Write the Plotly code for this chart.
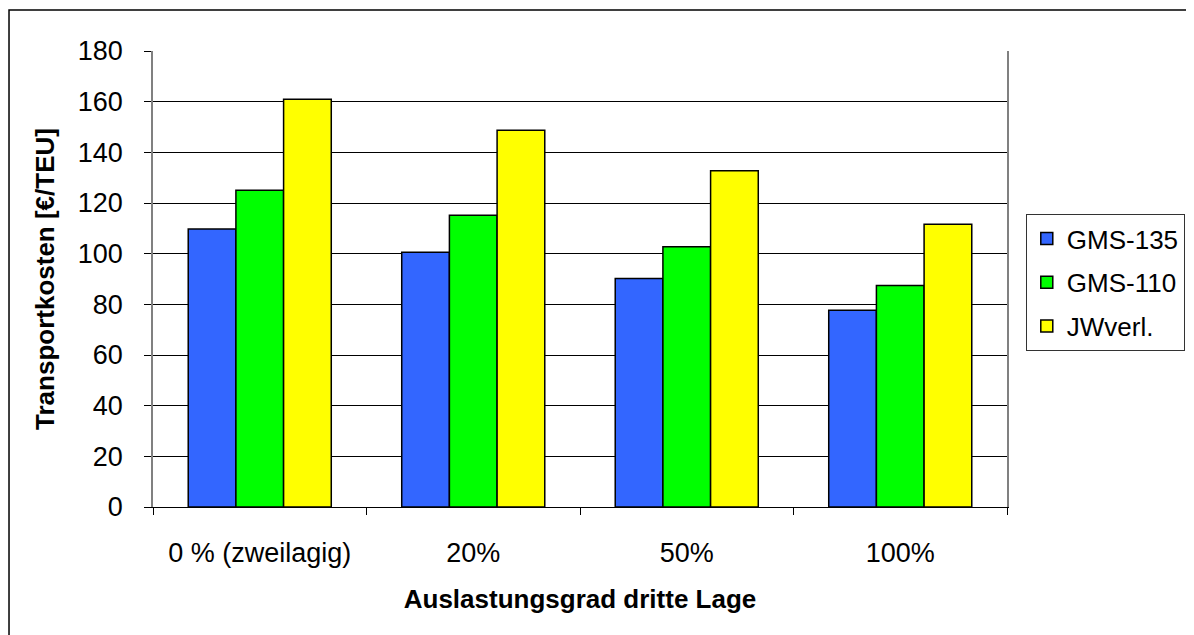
import plotly.graph_objects as go

categories = ["0 % (zweilagig)", "20%", "50%", "100%"]
gms135 = [109.7, 100.6, 90.2, 77.7]
gms110 = [125.0, 115.2, 102.7, 87.4]
jwverl = [161.0, 148.7, 132.7, 111.6]
series_names = ["GMS-135", "GMS-110", "JWverl."]
colors = ["#3366FF", "#00FF00", "#FFFF00"]
y_ticks = [0, 20, 40, 60, 80, 100, 120, 140, 160, 180]

fig = go.Figure()
for name, vals, col in zip(series_names, [gms135, gms110, jwverl], colors):
    fig.add_trace(go.Bar(
        x=categories, y=vals, name=name, legendgroup=name,
        marker=dict(color=col, line=dict(color="#000000", width=1.5)),
    ))

font = "Liberation Sans, Arial, sans-serif"
fig.update_layout(
    width=1194, height=635,
    margin=dict(l=145, r=195, t=43, b=136),
    paper_bgcolor="white", plot_bgcolor="white",
    barmode="group", bargap=0.33, bargroupgap=0,
    font=dict(family=font, size=27, color="black"),
    showlegend=True,
    legend=dict(
        x=1.022, xanchor="left", y=0.6425, yanchor="top",
        bordercolor="#333333", borderwidth=1, bgcolor="white",
        font=dict(size=26, family=font), tracegroupgap=7,
        traceorder="grouped", itemwidth=30,
    ),
    xaxis=dict(
        type="category", showline=True, linecolor="#000000", linewidth=1,
        ticks="outside", tickson="boundaries", ticklen=7, tickcolor="#000000",
        showgrid=False, tickfont=dict(size=27), ticklabelstandoff=22,
        title=dict(text="<b>Auslastungsgrad dritte Lage</b>", font=dict(size=26), standoff=22),
    ),
    yaxis=dict(
        range=[0, 180], tickvals=y_ticks, showline=True, linecolor="#808080", linewidth=1.5,
        mirror=True, ticks="outside", ticklen=7, tickcolor="#000000",
        showgrid=True, gridcolor="#000000", gridwidth=1, zeroline=False,
        tickfont=dict(size=27), ticklabelstandoff=16,
        title=dict(text="<b>Transportkosten [€/TEU]</b>", font=dict(size=26), standoff=16),
    ),
    shapes=[dict(type="rect", xref="paper", yref="paper",
                 x0=-0.1686, x1=1.5, y0=-0.6, y1=1.0899,
                 line=dict(color="#000000", width=1.5), fillcolor="rgba(0,0,0,0)", layer="below")],
)

fig.write_html("out.html")
